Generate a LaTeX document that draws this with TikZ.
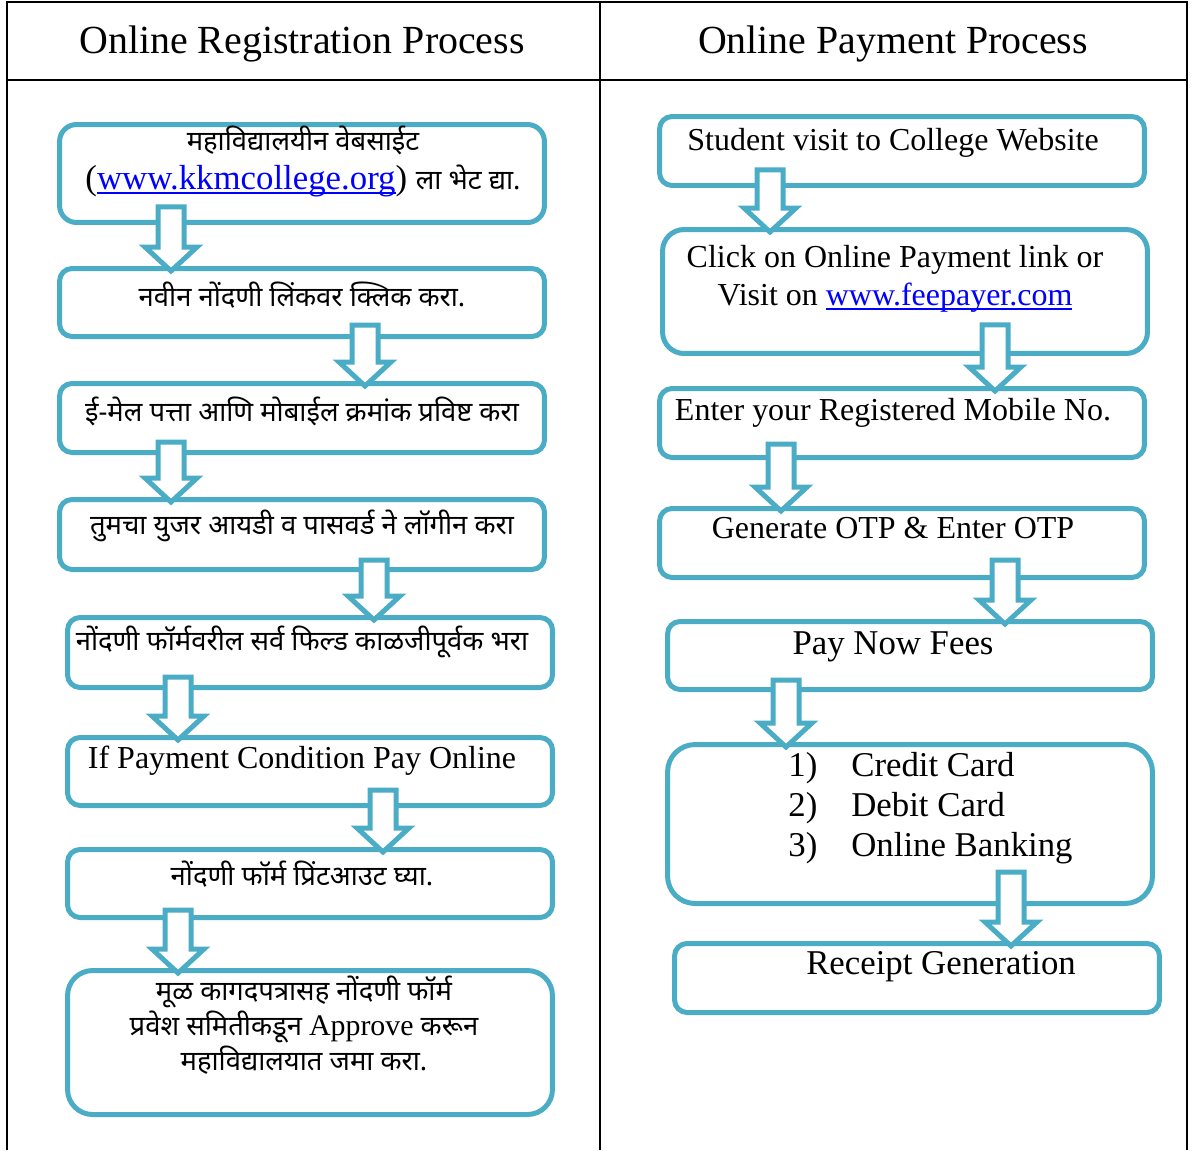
\documentclass[tikz,border=0pt]{standalone}
\usepackage{fontspec}
\usepackage{tikz}
\setmainfont{Liberation Serif}
\newfontfamily\devfont[Script=Devanagari]{Noto Sans}
\usetikzlibrary{calc}
\definecolor{boxblue}{RGB}{75,172,198}
\definecolor{linkblue}{RGB}{0,0,255}
\tikzset{stepbox/.style = {draw=boxblue, line width=0.1cm, rounded corners=0.25cm,
                           minimum width=9.7cm, inner sep=0}}
\tikzset{flow/.style = {draw=boxblue, line width=0.1cm, fill=white, line join=miter}}
\tikzset{rule/.style = {draw=black, line width=0.04cm}}
\tikzset{head/.style = {font=\fontsize{22.7}{26}\selectfont, inner sep=0}}
\tikzset{txt/.style = {font=\fontsize{18.2}{21.6}\selectfont, inner sep=0, align=center}}
\tikzset{bigtxt/.style = {font=\fontsize{19.8}{22.7}\selectfont, inner sep=0, align=center}}
\tikzset{devtxt/.style = {font=\devfont\fontsize{15.6}{20}\selectfont, inner sep=0, align=center}}
\newcommand{\dev}[1]{{\devfont\fontsize{15.6}{20}\selectfont #1}}
\newcommand{\weblink}[1]{\textcolor{linkblue}{\setbox0=\hbox{#1}\rlap{\rule[-2.6pt]{\wd0}{1.1pt}}\box0}}
% block arrow: from node, to node, x position, lift above the lower edge
\newcommand{\flowarrow}[4]{%
  \coordinate (s) at ($(#3,0 |- #1.south)+(0,-#4)$);
  \coordinate (e) at ($(#3,0 |- #2.north)+(0,5)$);
  \draw[flow] ($(s)+(-13,0)$) -- ($(e)+(-13,-24)$) -- ++(-13,0) -- (e)
    -- ($(e)+(26,-24)$) -- ++(-13,0) -- ($(s)+(13,0)$) -- cycle;
}

\begin{document}
\begin{tikzpicture}[x=0.02cm, y=-0.02cm]
        \useasboundingbox (0,0) rectangle (1192,1150);

        % table
        \draw[rule] (7,1150) -- (7,2) -- (1187,2) -- (1187,1150);
        \draw[rule] (600,2) -- (600,1150);
        \draw[rule] (7,80) -- (1187,80);
        \node[head] (hl) at (302,44) {Online Registration Process};
        \node[head] (hr) at (893,44) {Online Payment Process};

        % registration steps
        \node[stepbox, minimum height=1.96cm, rounded corners=0.34cm] (L1) at (302,173.5) {};
        \node[stepbox, minimum height=1.36cm] (L2) at (302,302.5) {};
        \node[stepbox, minimum height=1.38cm] (L3) at (302,418) {};
        \node[stepbox, minimum height=1.40cm] (L4) at (302,534.5) {};
        \node[stepbox, minimum height=1.40cm] (L5) at (310,652.5) {};
        \node[stepbox, minimum height=1.36cm] (L6) at (310,771.5) {};
        \node[stepbox, minimum height=1.36cm] (L7) at (310,883.5) {};
        \node[stepbox, minimum height=2.88cm, rounded corners=0.5cm] (L8) at (310,1042.5) {};

        % payment steps
        \node[stepbox, minimum height=1.38cm] (R1) at (902,151) {};
        \node[stepbox, minimum height=2.48cm, rounded corners=0.43cm] (R2) at (905,291.5) {};
        \node[stepbox, minimum height=1.38cm] (R3) at (902,423) {};
        \node[stepbox, minimum height=1.38cm] (R4) at (902,543) {};
        \node[stepbox, minimum height=1.36cm] (R5) at (910,655.5) {};
        \node[stepbox, minimum height=3.18cm, rounded corners=0.55cm] (R6) at (910,824) {};
        \node[stepbox, minimum height=1.38cm] (R7) at (917,978) {};

        \flowarrow{L1}{L2}{171}{18}
        \flowarrow{L2}{L3}{365}{14}
        \flowarrow{L3}{L4}{171}{13}
        \flowarrow{L4}{L5}{374}{12}
        \flowarrow{L5}{L6}{178}{13}
        \flowarrow{L6}{L7}{383}{18}
        \flowarrow{L7}{L8}{178}{10}

        \flowarrow{R1}{R2}{770}{18}
        \flowarrow{R2}{R3}{995}{31}
        \flowarrow{R3}{R4}{781}{16}
        \flowarrow{R4}{R5}{1005}{20}
        \flowarrow{R5}{R6}{786}{12}
        \flowarrow{R6}{R7}{1011}{34}

        % texts
        \node[txt] (t1a) at (303,140) {\dev{महाविद्यालयीन वेबसाईट}};
        \node[bigtxt] (t1b) at (303,181) {(\weblink{www.kkmcollege.org}) \dev{ला भेट द्या.}};
        \node[devtxt] (t2) at (302,295) {नवीन नोंदणी लिंकवर क्लिक करा.};
        \node[devtxt] (t3) at (302,411) {ई-मेल पत्ता आणि मोबाईल क्रमांक प्रविष्ट करा};
        \node[devtxt] (t4) at (302,526) {तुमचा युजर आयडी व पासवर्ड ने लॉगीन करा};
        \node[devtxt] (t5) at (302,642) {नोंदणी फॉर्मवरील सर्व फिल्ड काळजीपूर्वक भरा};
        \node[txt] (t6) at (302,761) {If Payment Condition Pay Online};
        \node[devtxt] (t7) at (302,874) {नोंदणी फॉर्म प्रिंटआउट घ्या.};
        \node[devtxt] (t8) at (304,1025) {मूळ कागदपत्रासह नोंदणी फॉर्म\\प्रवेश समितीकडून {\rmfamily\fontsize{17}{20}\selectfont Approve} करून\\महाविद्यालयात जमा करा.};

        \node[txt] (u1) at (893,143) {Student visit to College Website};
        \node[txt] (u2) at (895,279) {Click on Online Payment link or\\Visit on \weblink{www.feepayer.com}};
        \node[txt] (u3) at (893,413) {Enter your Registered Mobile No.};
        \node[txt] (u4) at (893,528) {Generate OTP \& Enter OTP};
        \node[bigtxt] (u5) at (893,647) {Pay Now Fees};
        \node[bigtxt, align=left, anchor=west, font=\fontsize{19.8}{22.7}\selectfont] (u6) at (788,808)
          {\makebox[1.26cm][l]{1)}Credit Card\\\makebox[1.26cm][l]{2)}Debit Card\\\makebox[1.26cm][l]{3)}Online Banking};
        \node[bigtxt] (u7) at (941,967) {Receipt Generation};
      \end{tikzpicture}
\end{document}
